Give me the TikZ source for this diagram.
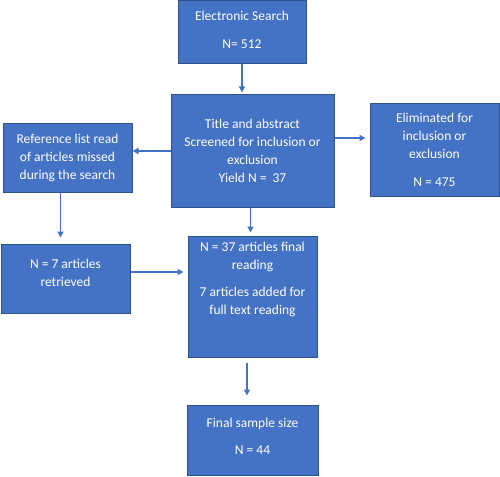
\documentclass[tikz,border=0pt]{standalone}
\usepackage{fontspec}
\setmainfont{Carlito}
\usetikzlibrary{arrows.meta}
\definecolor{boxblue}{HTML}{4472C4}
\definecolor{boxedge}{HTML}{2F528F}

\begin{document}
\begin{tikzpicture}[x=1pt,y=-1pt]
	\tikzstyle{stage}=[fill=boxblue,draw=boxedge,line width=1pt,text=white,align=center,font=\fontsize{13.5}{18}\selectfont,inner sep=0pt]
	\tikzstyle{caption}=[text=white,align=center,font=\fontsize{13.5}{18}\selectfont,inner sep=0pt]
	\tikzstyle{flow}=[draw=boxblue,line width=1.4pt,-{Triangle[width=6pt,length=6pt]}]
	\useasboundingbox (0,0) rectangle (500,476);
	\node (search) [stage,minimum width=128pt,minimum height=63pt] at (242,32.5) {Electronic Search\\[10pt]N= 512\\[-12pt]};
	\node (screen) [stage,minimum width=163pt,minimum height=112pt] at (252.5,151) {Title and abstract\\Screened for inclusion or\\exclusion\\Yield N =\ \ 37};
	\node (ref) [stage,minimum width=129pt,minimum height=69pt] at (67.5,157.5) {Reference list read\\of articles missed\\during the search};
	\node (elim) [stage,minimum width=129pt,minimum height=92pt] at (434.5,150) {Eliminated for\\inclusion or\\exclusion\\[10pt]N = 475};
	\node (retr) [stage,minimum width=129pt,minimum height=69pt] at (65.5,278.5) {N = 7 articles\\retrieved\\[-7pt]};
	\node (read) [stage,minimum width=129pt,minimum height=121pt] at (252.5,296.5) {};
	\node (readtext) [caption,anchor=north] at ([yshift=-6pt]read.north) {N = 37 articles final\\reading\\[9pt]7 articles added for\\full text reading};
	\node (final) [stage,minimum width=131pt,minimum height=70pt] at (252.5,440) {Final sample size\\[9pt]N = 44\\[-10pt]};
	\draw[flow,shorten >=2pt] (search.south) -- (search.south |- screen.north);
	\draw[flow] (screen.west) -- (screen.west -| ref.east);
	\draw[flow,shorten >=4pt] ([yshift=13pt]screen.east) -- ([yshift=13pt]screen.east -| elim.west);
	\draw[flow,shorten >=6pt] ([xshift=-7pt]ref.south) -- ([xshift=-7pt]ref.south |- retr.north);
	\draw[flow,shorten >=3pt] ([xshift=-2pt]screen.south) -- ([xshift=-2pt]screen.south |- read.north);
	\draw[flow,shorten >=4pt] ([yshift=6.5pt]retr.east) -- ([yshift=6.5pt]retr.east -| read.west);
	\draw[flow,shorten <=5pt,shorten >=9pt] ([xshift=-5.5pt]read.south) -- ([xshift=-5.5pt]read.south |- final.north);
\end{tikzpicture}
\end{document}
